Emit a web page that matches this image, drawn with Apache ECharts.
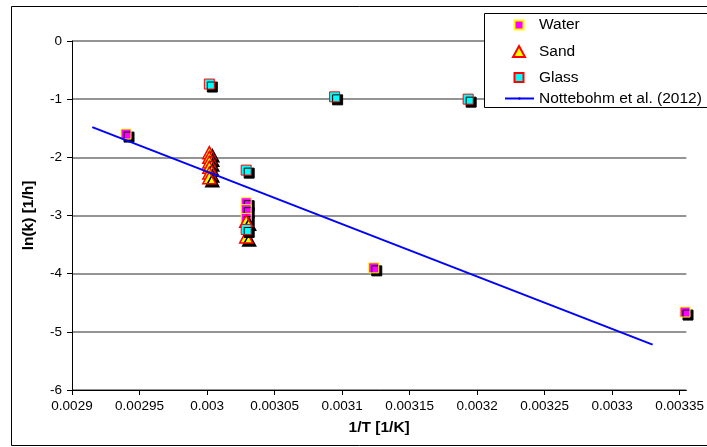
<!DOCTYPE html>
<html>
<head>
<meta charset="utf-8">
<script src="https://cdn.jsdelivr.net/npm/echarts@6/dist/echarts.min.js"></script>
<style>
  html, body { margin: 0; padding: 0; background: #fff; }
  #chart { width: 707px; height: 447px; }
</style>
</head>
<body>
<div id="chart"></div>
<script>
// Rate constants ln(k) against inverse temperature 1/T for three matrices
const waterData = [
  [0.00294, -1.60],
  [0.003029, -2.78],
  [0.003029, -2.90],
  [0.003029, -3.05],
  [0.0031235, -3.90],
  [0.003354, -4.66]
];
const sandData = [
  [0.0030017, -1.92],
  [0.0030017, -2.00],
  [0.0030017, -2.08],
  [0.0030017, -2.17],
  [0.0030017, -2.27],
  [0.0030017, -2.35],
  [0.003029, -3.10],
  [0.003029, -3.37]
];
const glassData = [
  [0.0030017, -0.74],
  [0.003029, -2.22],
  [0.003029, -3.24],
  [0.0030945, -0.96],
  [0.0031934, -1.00]
];
// Literature Arrhenius fit (Nottebohm et al., 2012)
const nottebohmLine = [
  [0.002915, -1.48],
  [0.00333, -5.22]
];
const xTicks = [0.0029, 0.00295, 0.003, 0.00305, 0.0031, 0.00315, 0.0032, 0.00325, 0.0033, 0.00335];
const yTicks = [-6, -5, -4, -3, -2, -1, 0];

const FONT = "'Liberation Sans', Arial, sans-serif";
const shadow = { shadowColor: '#000', shadowBlur: 0, shadowOffsetX: 3, shadowOffsetY: 3 };
const noShadow = { shadowColor: 'rgba(0,0,0,0)', shadowBlur: 0, shadowOffsetX: 0, shadowOffsetY: 0 };

function legendAt(name, left, cy, w, h) {
  return {
    data: [name],
    orient: 'vertical',
    left: left,
    top: cy - 8,
    padding: 0,
    itemWidth: w,
    itemHeight: h,
    selectedMode: false,
    z: 20,
    itemStyle: noShadow,
    textStyle: { fontFamily: FONT, fontSize: 15.5, color: '#000', padding: [0, 0, 0, 538 - left - w - 5] }
  };
}

const chart = echarts.init(document.getElementById('chart'), null, { renderer: 'canvas' });
chart.setOption({
  animation: false,
  backgroundColor: '#fff',
  textStyle: { fontFamily: FONT },
  grid: { left: 72, right: 19, top: 41, bottom: 57 },
  graphic: [
    { type: 'rect', z: 0, shape: { x: 11.5, y: 6.5, width: 705, height: 439 },
      style: { fill: 'none', stroke: '#000', lineWidth: 1 } },
    { type: 'rect', z: 10, shape: { x: 484.5, y: 13.5, width: 240, height: 94 },
      style: { fill: '#fff', stroke: '#000', lineWidth: 1 } }
  ],
  legend: [
    legendAt('Water', 513.5, 25, 9, 9),
    legendAt('Sand', 512, 51.5, 12, 11),
    legendAt('Glass', 513.5, 77.5, 9, 9),
    legendAt('Nottebohm et al. (2012)', 504, 98.5, 29, 3)
  ],
  xAxis: {
    type: 'value',
    min: 0.0029,
    max: 0.003355,
    name: '1/T [1/K]',
    nameLocation: 'middle',
    nameGap: 30,
    nameTextStyle: { fontFamily: FONT, fontSize: 15.5, fontWeight: 'bold', color: '#000' },
    axisLine: { show: true, onZero: false, lineStyle: { color: '#000', width: 1 } },
    axisTick: { show: true, inside: false, length: 5, customValues: xTicks, lineStyle: { color: '#000' } },
    axisLabel: {
      customValues: xTicks,
      fontFamily: FONT, fontSize: 13.5, color: '#000', margin: 9,
      formatter: v => String(parseFloat(v.toFixed(6)))
    },
    splitLine: { show: false }
  },
  yAxis: {
    type: 'value',
    min: yTicks[0],
    max: yTicks[yTicks.length - 1],
    interval: 1,
    name: 'ln(k) [1/h]',
    nameLocation: 'middle',
    nameRotate: 90,
    nameGap: 35,
    nameTextStyle: { fontFamily: FONT, fontSize: 15.5, fontWeight: 'bold', color: '#000' },
    axisLine: { show: true, onZero: false, lineStyle: { color: '#000', width: 1 } },
    axisTick: { show: true, inside: false, length: 5, lineStyle: { color: '#000' } },
    axisLabel: { fontFamily: FONT, fontSize: 13.5, color: '#000', margin: 10 },
    splitLine: { show: true, lineStyle: { color: '#707070', width: 1.5 } }
  },
  series: [
    {
      name: 'Water', type: 'scatter', data: waterData, symbol: 'rect', symbolSize: 10, z: 3,
      itemStyle: Object.assign({ color: '#ff00ff', borderColor: '#ffff00', borderWidth: 1, opacity: 1 }, shadow)
    },
    {
      name: 'Sand', type: 'scatter', data: sandData, symbol: 'triangle', symbolSize: [13, 12], z: 4,
      itemStyle: Object.assign({ color: '#ffff00', borderColor: '#ff0000', borderWidth: 1.5, opacity: 1 }, shadow)
    },
    {
      name: 'Glass', type: 'scatter', data: glassData, symbol: 'rect', symbolSize: 10, z: 5,
      itemStyle: Object.assign({ color: '#00ffff', borderColor: '#ff0000', borderWidth: 1, opacity: 1 }, shadow)
    },
    {
      name: 'Nottebohm et al. (2012)', type: 'line', data: nottebohmLine, z: 6,
      showSymbol: false, symbol: 'none',
      lineStyle: { color: '#0000ff', width: 2 },
      itemStyle: { color: '#0000ff' }
    }
  ]
});
</script>
</body>
</html>
